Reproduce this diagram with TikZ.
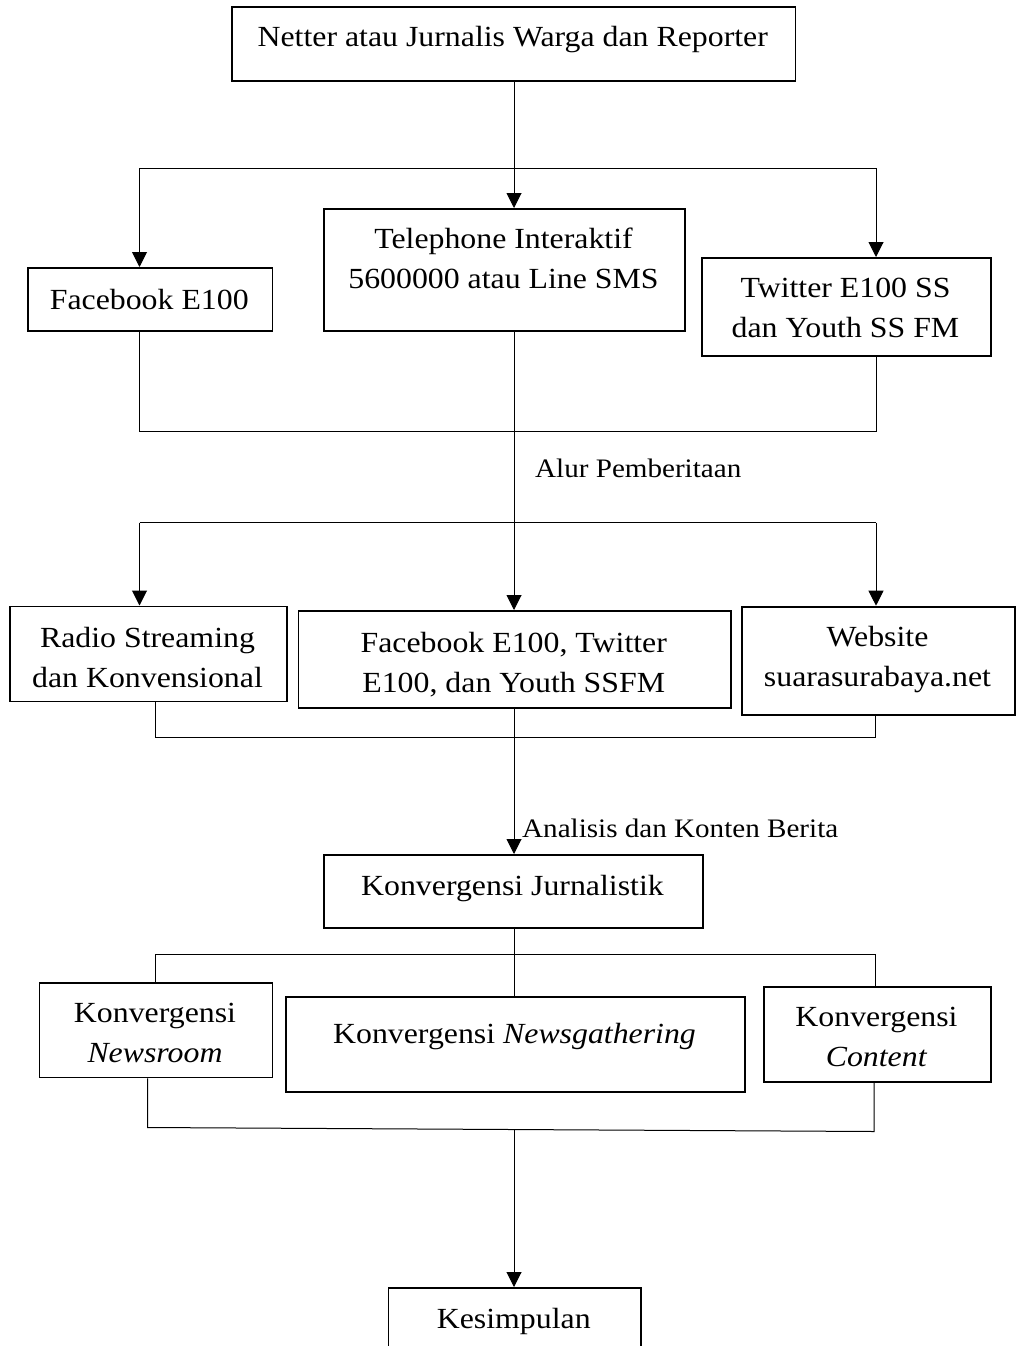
\documentclass[tikz,border=0pt]{standalone}
\usepackage{fontspec}
\setmainfont{Liberation Serif}[FakeStretch=1.09]
\usetikzlibrary{arrows.meta}
\begin{document}
\begin{tikzpicture}[x=1pt,y=-1pt,
  box/.style={draw, line width=1.8pt, inner sep=0pt},
  txt/.style={inner sep=0pt, align=center, font=\fontsize{29.2}{40}\selectfont},
  lbl/.style={inner sep=0pt, anchor=base west, font=\fontsize{26.7}{32}\selectfont},
  conn/.style={line width=1pt},
  arr/.style={conn, -{Triangle[width=15pt,length=15pt]}}]
\useasboundingbox (0,0) rectangle (1016,1346);

% boxes
\node[box, minimum width=563.5pt, minimum height=74pt, anchor=north west] (top) at (231,6) {};
\node[box, minimum width=244.5pt, minimum height=63pt, anchor=north west] (fb) at (27,267) {};
\node[box, minimum width=361pt, minimum height=122pt, anchor=north west] (tel) at (323,208) {};
\node[box, minimum width=289pt, minimum height=98pt, anchor=north west] (tw) at (701,257) {};
\node[box, minimum width=277pt, minimum height=95pt, anchor=north west] (radio) at (9,605.5) {};
\node[box, minimum width=432.5pt, minimum height=96.7pt, anchor=north west] (fb2) at (297.5,610) {};
\node[box, minimum width=273pt, minimum height=108.3pt, anchor=north west] (web) at (741,605.7) {};
\node[box, minimum width=379pt, minimum height=73pt, anchor=north west] (jur) at (323,854) {};
\node[box, minimum width=233pt, minimum height=94.5pt, anchor=north west] (nr) at (38.5,982) {};
\node[box, minimum width=459pt, minimum height=95pt, anchor=north west] (ng) at (285,996) {};
\node[box, minimum width=227pt, minimum height=95pt, anchor=north west] (ct) at (763,986) {};
\node[box, minimum width=252.5pt, minimum height=80pt, anchor=north west] (kes) at (387.5,1287) {};

% texts
\node[txt, anchor=base] (top-t) at (512.75,47) {Netter atau Jurnalis Warga dan Reporter};
\node[txt, anchor=base] (fb-t) at (149.25,309) {Facebook E100};
\node[txt, anchor=north] (tel-t) at (503.5,228) {Telephone Interaktif\\5600000 atau Line SMS};
\node[txt, anchor=north] (tw-t) at (845.5,278) {Twitter E100 SS\\dan Youth SS FM};
\node[txt, anchor=north] (radio-t) at (147.5,626.7) {Radio Streaming\\dan Konvensional};
\node[txt, anchor=north] (fb2-t) at (513.75,632) {Facebook E100, Twitter\\E100, dan Youth SSFM};
\node[txt, anchor=north] (web-t) at (877.5,625.7) {Website\\suarasurabaya.net};
\node[txt, anchor=base] (jur-t) at (512.5,895) {Konvergensi Jurnalistik};
\node[txt, anchor=north] (nr-t) at (155,1003) {Konvergensi\\\textit{Newsroom}};
\node[txt, anchor=base] (ng-t) at (514.5,1043) {Konvergensi \textit{Newsgathering}};
\node[txt, anchor=north] (ct-t) at (876.5,1007) {Konvergensi\\\textit{Content}};
\node[txt, anchor=base] (kes-t) at (513.75,1328) {Kesimpulan};

% labels
\node[lbl] (alur) at (535,477) {Alur Pemberitaan};
\node[lbl] (anal) at (522,837) {Analisis dan Konten Berita};

% junction coordinates
\coordinate (b1l) at (139.5,168);
\coordinate (b1c) at (514,168);
\coordinate (b1r) at (876,168);
\coordinate (c1l) at (139.5,431);
\coordinate (c1r) at (876,431);
\coordinate (b2l) at (139.5,522.7);
\coordinate (b2r) at (876,522.7);
\coordinate (c2l) at (155.5,737.7);
\coordinate (c2r) at (875.6,737.7);
\coordinate (b3l) at (155.5,954);
\coordinate (b3c) at (514,954);
\coordinate (b3r) at (875.6,954);
\coordinate (c3l) at (147.7,1127.5);
\coordinate (c3c) at (514,1129.5);
\coordinate (c3r) at (874,1131.5);

% level 1
\draw[arr] (b1c |- top.south) -- (b1c |- tel.north);
\draw[conn] (b1l) -- (b1r);
\draw[arr] (b1l) -- (b1l |- fb.north);
\draw[arr] (b1r) -- (b1r |- tw.north);
\draw[conn] (c1l |- fb.south) -- (c1l) -- (c1r) -- (c1r |- tw.south);

% level 2
\draw[arr] (b1c |- tel.south) -- (b1c |- fb2.north);
\draw[conn] (b2l) -- (b2r);
\draw[arr] (b2l) -- (b2l |- radio.north);
\draw[arr] (b2r) -- (b2r |- web.north);
\draw[conn] (c2l |- radio.south) -- (c2l) -- (c2r) -- (c2r |- web.south);

% level 3
\draw[arr] (b1c |- fb2.south) -- (b1c |- jur.north);
\draw[conn] (b3l |- nr.north) -- (b3l) -- (b3r) -- (b3r |- ct.north);
\draw[conn] (b3c |- jur.south) -- (b3c |- ng.north);
\draw[conn] (c3l |- nr.south) -- (c3l) -- (c3r) -- (c3r |- ct.south);
\draw[arr] (c3c) -- (c3c |- kes.north);
\end{tikzpicture}
\end{document}
